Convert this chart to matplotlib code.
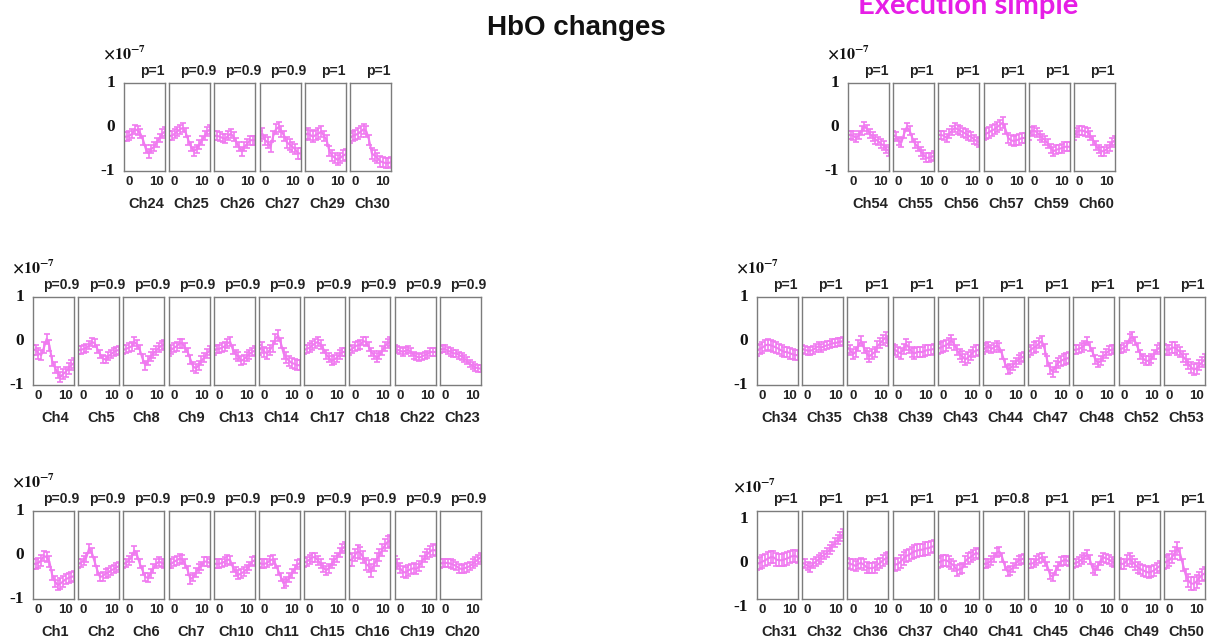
import matplotlib
matplotlib.use("Agg")
import matplotlib.pyplot as plt
from matplotlib.transforms import offset_copy

plt.rcParams["mathtext.fontset"] = "stix"

# time axis of the block averages (s)
time = list(range(-2, 14))

# ---- HbO block averages, units of 1e-7 ----
top_left_channels = ["Ch24", "Ch25", "Ch26", "Ch27", "Ch29", "Ch30"]
top_left_p = ["1", "0.9", "0.9", "0.9", "1", "1"]
top_left_hbo = [
    [-0.22, -0.22, -0.2, -0.15, -0.05, -0.08, -0.15, -0.3, -0.5, -0.6, -0.5, -0.45, -0.35, -0.25, -0.15, -0.1],
    [-0.2, -0.2, -0.15, -0.1, -0.05, -0.02, -0.12, -0.3, -0.45, -0.55, -0.5, -0.4, -0.3, -0.2, -0.1, -0.05],
    [-0.2, -0.2, -0.22, -0.25, -0.27, -0.2, -0.15, -0.22, -0.35, -0.45, -0.55, -0.45, -0.38, -0.3, -0.3, -0.3],
    [-0.2, -0.15, -0.3, -0.35, -0.45, -0.2, -0.05, 0.0, -0.1, -0.2, -0.35, -0.4, -0.45, -0.5, -0.6, -0.6],
    [-0.18, -0.15, -0.18, -0.22, -0.18, -0.15, -0.1, -0.2, -0.3, -0.55, -0.65, -0.7, -0.75, -0.7, -0.65, -0.62],
    [-0.25, -0.2, -0.18, -0.15, -0.1, -0.05, -0.1, -0.3, -0.6, -0.65, -0.7, -0.78, -0.8, -0.82, -0.82, -0.8],
]
top_left_err = [0.1, 0.1, 0.1, 0.12, 0.12, 0.12]

top_right_channels = ["Ch54", "Ch55", "Ch56", "Ch57", "Ch59", "Ch60"]
top_right_p = ["1", "1", "1", "1", "1", "1"]
top_right_hbo = [
    [-0.18, -0.18, -0.2, -0.25, -0.18, -0.08, 0.02, -0.05, -0.15, -0.22, -0.28, -0.32, -0.38, -0.42, -0.5, -0.55],
    [-0.18, -0.22, -0.32, -0.35, -0.15, 0.0, -0.08, -0.25, -0.38, -0.45, -0.55, -0.62, -0.7, -0.7, -0.68, -0.65],
    [-0.18, -0.18, -0.2, -0.25, -0.15, -0.08, -0.02, -0.05, -0.08, -0.12, -0.15, -0.2, -0.22, -0.28, -0.32, -0.35],
    [-0.18, -0.15, -0.12, -0.08, -0.05, 0.0, 0.05, 0.1, -0.05, -0.25, -0.3, -0.32, -0.3, -0.28, -0.25, -0.25],
    [-0.2, -0.1, -0.08, -0.12, -0.2, -0.25, -0.3, -0.38, -0.48, -0.55, -0.52, -0.5, -0.48, -0.45, -0.45, -0.45],
    [-0.2, -0.12, -0.08, -0.08, -0.1, -0.12, -0.2, -0.3, -0.42, -0.5, -0.55, -0.55, -0.5, -0.45, -0.35, -0.3],
]
top_right_err = [0.1, 0.1, 0.1, 0.12, 0.1, 0.1]

mid_left_channels = ["Ch4", "Ch5", "Ch8", "Ch9", "Ch13", "Ch14", "Ch17", "Ch18", "Ch22", "Ch23"]
mid_left_p = ["0.9"] * 10
mid_left_hbo = [
    [-0.2, -0.2, -0.28, -0.32, -0.15, 0.05, -0.1, -0.45, -0.6, -0.72, -0.82, -0.75, -0.7, -0.62, -0.55, -0.5],
    [-0.2, -0.2, -0.18, -0.15, -0.1, -0.02, -0.05, -0.18, -0.3, -0.4, -0.42, -0.35, -0.3, -0.25, -0.22, -0.2],
    [-0.2, -0.18, -0.15, -0.12, -0.02, -0.08, -0.2, -0.4, -0.55, -0.45, -0.35, -0.28, -0.22, -0.15, -0.1, -0.08],
    [-0.25, -0.2, -0.15, -0.12, -0.05, -0.05, -0.15, -0.25, -0.42, -0.58, -0.62, -0.55, -0.45, -0.38, -0.28, -0.22],
    [-0.22, -0.18, -0.18, -0.15, -0.12, -0.05, -0.02, -0.2, -0.3, -0.35, -0.45, -0.42, -0.35, -0.3, -0.25, -0.22],
    [-0.2, -0.15, -0.25, -0.28, -0.2, -0.12, 0.05, 0.12, -0.05, -0.28, -0.38, -0.45, -0.5, -0.52, -0.55, -0.55],
    [-0.2, -0.18, -0.15, -0.1, -0.05, -0.02, -0.08, -0.18, -0.3, -0.38, -0.45, -0.42, -0.38, -0.3, -0.25, -0.25],
    [-0.22, -0.18, -0.12, -0.1, -0.08, 0.0, -0.02, -0.12, -0.25, -0.32, -0.38, -0.32, -0.22, -0.12, -0.05, -0.02],
    [-0.18, -0.2, -0.22, -0.25, -0.22, -0.2, -0.25, -0.32, -0.35, -0.38, -0.35, -0.32, -0.3, -0.25, -0.25, -0.25],
    [-0.2, -0.18, -0.18, -0.22, -0.25, -0.28, -0.28, -0.32, -0.35, -0.4, -0.45, -0.52, -0.56, -0.6, -0.62, -0.63],
]
mid_left_err = [0.12, 0.09, 0.1, 0.1, 0.1, 0.12, 0.1, 0.1, 0.08, 0.08]

mid_right_channels = ["Ch34", "Ch35", "Ch38", "Ch39", "Ch43", "Ch44", "Ch47", "Ch48", "Ch52", "Ch53"]
mid_right_p = ["1"] * 10
mid_right_hbo = [
    [-0.22, -0.18, -0.15, -0.1, -0.08, -0.1, -0.12, -0.15, -0.18, -0.22, -0.25, -0.25, -0.28, -0.3, -0.32, -0.32],
    [-0.18, -0.2, -0.22, -0.22, -0.2, -0.15, -0.12, -0.15, -0.12, -0.1, -0.08, -0.05, -0.05, -0.03, -0.02, 0.0],
    [-0.15, -0.2, -0.3, -0.25, -0.1, 0.0, -0.15, -0.28, -0.35, -0.3, -0.25, -0.12, -0.05, 0.02, 0.08, 0.0],
    [-0.18, -0.2, -0.25, -0.28, -0.18, -0.08, -0.15, -0.25, -0.28, -0.25, -0.25, -0.25, -0.22, -0.2, -0.2, -0.18],
    [-0.18, -0.15, -0.12, -0.1, -0.05, 0.02, -0.08, -0.2, -0.3, -0.35, -0.42, -0.38, -0.32, -0.25, -0.22, -0.2],
    [-0.2, -0.15, -0.12, -0.18, -0.15, -0.1, -0.15, -0.3, -0.5, -0.65, -0.62, -0.55, -0.48, -0.42, -0.38, -0.35],
    [-0.25, -0.2, -0.15, -0.12, -0.05, 0.0, -0.18, -0.45, -0.62, -0.7, -0.58, -0.5, -0.45, -0.42, -0.4, -0.38],
    [-0.2, -0.2, -0.18, -0.15, -0.1, 0.0, -0.12, -0.25, -0.42, -0.5, -0.45, -0.35, -0.28, -0.22, -0.2, -0.18],
    [-0.18, -0.18, -0.15, -0.1, 0.05, 0.1, 0.0, -0.15, -0.3, -0.4, -0.45, -0.45, -0.4, -0.3, -0.2, -0.15],
    [-0.18, -0.2, -0.2, -0.15, -0.15, -0.2, -0.25, -0.35, -0.42, -0.52, -0.6, -0.65, -0.62, -0.55, -0.48, -0.42],
]
mid_right_err = [0.12, 0.09, 0.12, 0.12, 0.12, 0.1, 0.12, 0.1, 0.1, 0.12]

bot_left_channels = ["Ch1", "Ch2", "Ch6", "Ch7", "Ch10", "Ch11", "Ch15", "Ch16", "Ch19", "Ch20"]
bot_left_p = ["0.9"] * 10
bot_left_hbo = [
    [-0.2, -0.2, -0.18, -0.12, -0.02, -0.05, -0.15, -0.45, -0.6, -0.68, -0.65, -0.6, -0.55, -0.52, -0.5, -0.48],
    [-0.2, -0.18, -0.12, -0.05, 0.15, 0.05, -0.15, -0.35, -0.5, -0.48, -0.42, -0.4, -0.35, -0.32, -0.28, -0.25],
    [-0.2, -0.18, -0.12, -0.05, 0.1, 0.0, -0.2, -0.35, -0.5, -0.52, -0.42, -0.3, -0.2, -0.15, -0.18, -0.2],
    [-0.2, -0.2, -0.15, -0.12, -0.08, -0.1, -0.2, -0.35, -0.55, -0.5, -0.4, -0.3, -0.25, -0.15, -0.15, -0.18],
    [-0.2, -0.2, -0.2, -0.18, -0.15, -0.1, -0.12, -0.28, -0.38, -0.45, -0.42, -0.38, -0.32, -0.25, -0.15, -0.12],
    [-0.18, -0.2, -0.2, -0.18, -0.12, -0.1, -0.2, -0.35, -0.5, -0.65, -0.6, -0.52, -0.42, -0.32, -0.22, -0.18],
    [-0.17, -0.15, -0.1, -0.05, -0.05, -0.12, -0.2, -0.28, -0.35, -0.3, -0.2, -0.12, -0.05, 0.05, 0.15, 0.2],
    [-0.12, -0.1, 0.0, 0.08, 0.05, -0.05, -0.2, -0.25, -0.35, -0.22, -0.1, 0.0, 0.12, 0.22, 0.3, 0.32],
    [-0.15, -0.2, -0.3, -0.38, -0.4, -0.35, -0.32, -0.3, -0.32, -0.25, -0.15, -0.05, 0.02, 0.08, 0.12, 0.1],
    [-0.2, -0.18, -0.18, -0.18, -0.2, -0.22, -0.25, -0.3, -0.32, -0.3, -0.28, -0.25, -0.2, -0.15, -0.1, -0.05],
]
bot_left_err = [0.12, 0.1, 0.1, 0.1, 0.1, 0.1, 0.1, 0.14, 0.12, 0.1]

bot_right_channels = ["Ch31", "Ch32", "Ch36", "Ch37", "Ch40", "Ch41", "Ch45", "Ch46", "Ch49", "Ch50"]
bot_right_p = ["1", "1", "1", "1", "1", "0.8", "1", "1", "1", "1"]
bot_right_hbo = [
    [-0.2, -0.18, -0.15, -0.12, -0.08, -0.05, -0.05, -0.1, -0.12, -0.12, -0.1, -0.08, -0.05, -0.02, -0.02, -0.05],
    [-0.18, -0.2, -0.25, -0.28, -0.2, -0.15, -0.1, -0.05, 0.0, 0.05, 0.12, 0.2, 0.28, 0.35, 0.42, 0.48],
    [-0.18, -0.2, -0.22, -0.25, -0.2, -0.18, -0.22, -0.28, -0.3, -0.3, -0.28, -0.22, -0.18, -0.12, -0.08, -0.05],
    [-0.2, -0.22, -0.2, -0.15, -0.08, -0.02, 0.0, 0.05, 0.08, 0.1, 0.12, 0.12, 0.15, 0.15, 0.18, 0.2],
    [-0.18, -0.15, -0.12, -0.12, -0.15, -0.2, -0.25, -0.35, -0.32, -0.3, -0.15, -0.08, -0.05, 0.0, 0.05, 0.02],
    [-0.2, -0.2, -0.18, -0.12, -0.05, 0.05, 0.08, -0.05, -0.25, -0.38, -0.35, -0.28, -0.2, -0.12, -0.1, -0.08],
    [-0.2, -0.2, -0.18, -0.12, -0.08, -0.05, -0.15, -0.25, -0.45, -0.5, -0.35, -0.25, -0.15, -0.12, -0.12, -0.15],
    [-0.2, -0.18, -0.15, -0.1, -0.05, 0.02, -0.1, -0.3, -0.35, -0.25, -0.12, -0.05, -0.08, -0.1, -0.15, -0.18],
    [-0.18, -0.2, -0.2, -0.12, -0.08, -0.15, -0.22, -0.28, -0.32, -0.35, -0.38, -0.4, -0.38, -0.35, -0.3, -0.25],
    [-0.18, -0.15, -0.12, -0.05, 0.05, 0.15, 0.02, -0.22, -0.45, -0.58, -0.65, -0.65, -0.6, -0.52, -0.45, -0.42],
]
bot_right_err = [0.14, 0.1, 0.12, 0.14, 0.12, 0.1, 0.1, 0.1, 0.12, 0.14]

y_ticks = [-1, 0, 1]
y_tick_labels = ["-1", "0", "1"]
x_ticks = [0, 10]

# ---- figure layout (pixels) ----
W, H = 1212, 642
BOX_W, BOX_H, STEP = 41, 88, 45.2
TRACE = "#F07AF0"
EDGE = "#7c7c7c"
SANS = "Liberation Sans"
SERIF = "Liberation Serif"

fig = plt.figure(figsize=(W / 100, H / 100), dpi=100)
fig.patch.set_facecolor("white")


def shifted(base, dx, dy):
    return offset_copy(base, fig=fig, x=dx, y=dy, units="dots")


def draw_group(x0, top, channels, pvals, curves, errs, label_dy=0, exp_dx=0, exp_dy=0):
    for i, (ch, p, y, e) in enumerate(zip(channels, pvals, curves, errs)):
        left = x0 + i * STEP
        ax = fig.add_axes([left / W, 1 - (top + BOX_H) / H, BOX_W / W, BOX_H / H])
        ax.errorbar(time, y, yerr=e, color=TRACE, lw=1.5, elinewidth=1.2,
                    capsize=2.2, capthick=1.2)
        ax.set_xlim(-2, 13)
        ax.set_ylim(-1, 1)
        ax.set_xticks(x_ticks)
        ax.set_xticklabels([str(t) for t in x_ticks], fontfamily=SANS,
                           fontweight="bold", fontsize=9.5, color="#222222")
        ax.set_yticks([])
        ax.tick_params(axis="x", length=0, pad=3.5)
        for s in ax.spines.values():
            s.set_color(EDGE)
            s.set_linewidth(1.0)
        ax.text(0.5, 1, f"p={p}", transform=shifted(ax.transAxes, 8, 12),
                ha="center", va="center", fontfamily=SANS, fontweight="bold",
                fontsize=10, color="#222222")
        ax.text(0.5, 0, ch, transform=shifted(ax.transAxes, 2, -33),
                ha="center", va="center", fontfamily=SANS, fontweight="bold",
                fontsize=10.5, color="#222222")
        if i == 0:
            for yv, lab in zip(y_ticks, y_tick_labels):
                ax.text(0, yv, lab, transform=shifted(ax.get_yaxis_transform(), -9, -label_dy),
                        ha="right", va="center", fontfamily=SERIF,
                        fontweight="bold", fontsize=12.5, color="#111111")
            ax.text(0, 1, r"$\mathbf{\times 10^{-7}}$",
                    transform=shifted(ax.transAxes, -21 - exp_dx, 30 - exp_dy),
                    ha="left", va="center", fontsize=11.5, color="#111111")


draw_group(124, 83, top_left_channels, top_left_p, top_left_hbo, top_left_err)
draw_group(848, 83, top_right_channels, top_right_p, top_right_hbo, top_right_err)
draw_group(33, 297, mid_left_channels, mid_left_p, mid_left_hbo, mid_left_err)
draw_group(757, 297, mid_right_channels, mid_right_p, mid_right_hbo, mid_right_err)
draw_group(33, 511, bot_left_channels, bot_left_p, bot_left_hbo, bot_left_err)
draw_group(757, 511, bot_right_channels, bot_right_p, bot_right_hbo, bot_right_err,
           label_dy=8, exp_dx=3, exp_dy=5)

fig.text(576 / W, 1 - 35 / H, "HbO changes", ha="center", va="baseline",
         fontfamily=SANS, fontweight="bold", fontsize=20, color="#111111")
fig.text(968 / W, 1 - 14 / H, "Execution simple", ha="center", va="baseline",
         fontfamily="Lato", fontweight="bold", fontsize=21, color="#E61EE6")

fig.savefig("out.png", dpi=100, facecolor="white")
